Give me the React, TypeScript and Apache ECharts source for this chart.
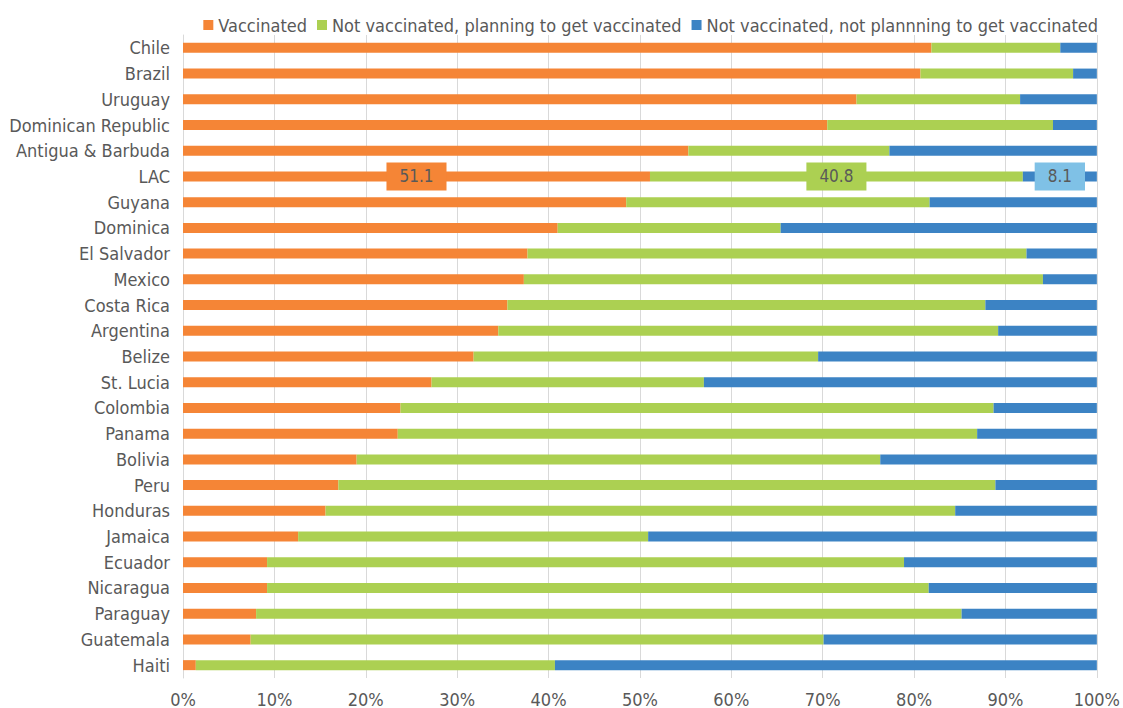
import React, { useEffect, useRef } from "react";
import * as echarts from "echarts";

const countries = [
  "Chile", "Brazil", "Uruguay", "Dominican Republic", "Antigua & Barbuda", "LAC",
  "Guyana", "Dominica", "El Salvador", "Mexico", "Costa Rica", "Argentina", "Belize",
  "St. Lucia", "Colombia", "Panama", "Bolivia", "Peru", "Honduras", "Jamaica",
  "Ecuador", "Nicaragua", "Paraguay", "Guatemala", "Haiti",
];
const vaccinated = [
  81.9, 80.7, 73.7, 70.5, 55.3, 51.1, 48.5, 41.0, 37.7, 37.3, 35.5, 34.5, 31.8,
  27.2, 23.8, 23.5, 19.0, 17.0, 15.6, 12.6, 9.2, 9.2, 8.0, 7.4, 1.4,
];
const planning = [
  14.1, 16.7, 17.9, 24.7, 22.0, 40.8, 33.2, 24.4, 54.6, 56.8, 52.3, 54.7, 37.7,
  29.8, 64.9, 63.4, 57.3, 71.9, 68.9, 38.3, 69.7, 72.4, 77.2, 62.7, 39.3,
];
const notPlanning = [
  4.0, 2.6, 8.4, 4.8, 22.7, 8.1, 18.3, 34.6, 7.7, 5.9, 12.2, 10.8, 30.5,
  43.0, 11.3, 13.1, 23.7, 11.1, 15.5, 49.1, 21.1, 18.4, 14.8, 29.9, 59.3,
];
const seriesNames = [
  "Vaccinated",
  "Not vaccinated, planning to get vaccinated",
  "Not vaccinated, not plannning to get vaccinated",
];
const highlightCategory = "LAC";

const FONT = "'Liberation Sans Narrow', 'DejaVu Sans Condensed', 'Roboto Condensed', 'Liberation Sans', sans-serif";
const TEXT = "#595959";
const colors = ["#f58536", "#acd052", "#3c83c4"];
const labelBg = ["#f58536", "#acd052", "#7fc1e6"];

function makeData(values: number[], idx: number) {
  return values.map((v, i) => {
    if (countries[i] === highlightCategory) {
      return {
        value: v,
        label: {
          show: true,
          position: "inside",
          formatter: (p: any) => String(p.value),
          color: TEXT,
          fontFamily: FONT,
          fontSize: 17,
          backgroundColor: labelBg[idx],
          padding: [6, 13, 5, 13],
        },
      };
    }
    return v;
  });
}

export default function App() {
  const ref = useRef<HTMLDivElement>(null);
  useEffect(() => {
    document.body.style.margin = "0";
    document.body.style.overflow = "hidden";
    if (!ref.current) return;
    const chart = echarts.init(ref.current, undefined, { renderer: "svg" });
    const all = [vaccinated, planning, notPlanning];
    chart.setOption({
      animation: false,
      textStyle: { fontFamily: FONT, color: TEXT },
      legend: {
        top: 11,
        right: 20,
        itemWidth: 10,
        itemHeight: 10,
        itemGap: 10,
        icon: "rect",
        textStyle: { fontFamily: FONT, fontSize: 18, color: TEXT },
        data: seriesNames,
      },
      grid: { left: 183, right: 25, top: 35, bottom: 30, containLabel: false },
      xAxis: {
        type: "value",
        min: 0,
        max: 100,
        interval: 10,
        axisLabel: {
          formatter: "{value}%",
          fontFamily: FONT,
          fontSize: 18,
          color: TEXT,
          margin: 12,
        },
        splitLine: { show: true, lineStyle: { color: "#d9d9d9", width: 1 } },
        axisLine: { show: false },
        axisTick: { show: false },
      },
      yAxis: {
        type: "category",
        inverse: true,
        data: countries,
        axisLabel: { fontFamily: FONT, fontSize: 18, color: TEXT, margin: 13 },
        axisLine: { show: true, lineStyle: { color: "#d9d9d9" } },
        axisTick: { show: false },
      },
      series: all.map((vals, idx) => ({
        name: seriesNames[idx],
        type: "bar",
        stack: "total",
        barWidth: 10,
        itemStyle: { color: colors[idx] },
        data: makeData(vals, idx),
      })),
    });
    return () => chart.dispose();
  }, []);
  return <div ref={ref} style={{ width: 1123, height: 708 }} />;
}
